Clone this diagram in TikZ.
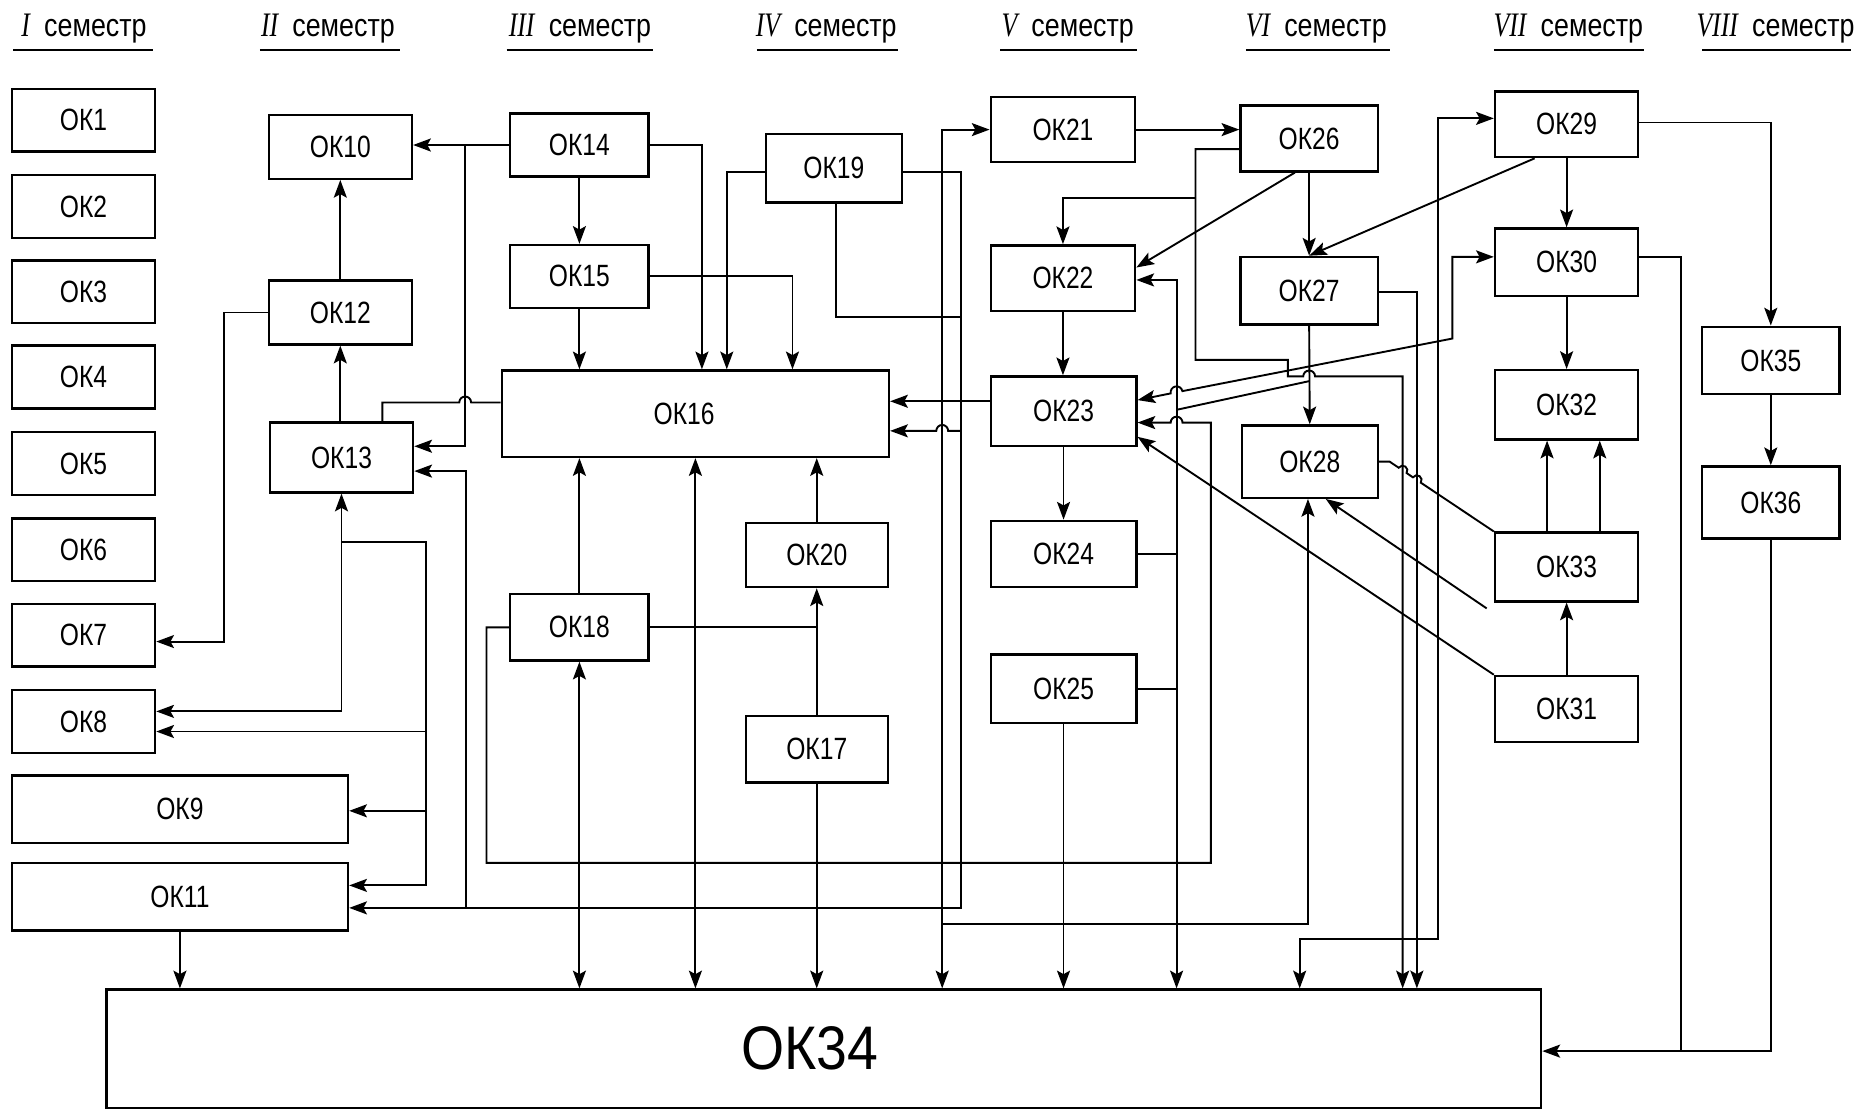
\documentclass[tikz,border=0pt]{standalone}
\usepackage{fontspec}
\usetikzlibrary{arrows.meta}
\newfontfamily\boxfont[FakeStretch=0.8]{Liberation Sans}
\newfontfamily\bigboxfont[FakeStretch=0.9]{Liberation Sans}
\newfontfamily\hdrfont[FakeStretch=0.84]{Liberation Sans}
\newfontfamily\romfont[FakeStretch=0.75]{Liberation Serif}
\newcommand\semhdr[1]{{\romfont\itshape\fontsize{29}{30}\selectfont #1}\hspace{12pt}{\hdrfont\fontsize{27}{30}\selectfont семестр}}
\tikzset{
  box/.style={draw, line width=2pt, inner sep=0pt, font=\boxfont\fontsize{26}{28}\selectfont},
  hdr/.style={anchor=base, inner sep=0pt},
  uline/.style={line width=1.7pt},
  ln/.style={line width=1.6pt},
  arr/.style={ln, -{Stealth[length=15pt,width=11pt,inset=3pt]}},
  rarr/.style={ln, {Stealth[length=15pt,width=11pt,inset=3pt]}-},
  darr/.style={ln, {Stealth[length=15pt,width=11pt,inset=3pt]}-{Stealth[length=15pt,width=11pt,inset=3pt]}}
}
\begin{document}
\begin{tikzpicture}[x=1pt,y=1pt]
\useasboundingbox (0,0) rectangle (1568,-938);
\fill[white] (0,0) rectangle (1568,-938);

% headers
\node[hdr] (h1) at (71,-31) {\semhdr{I}};
\node[hdr] (h2) at (277,-31) {\semhdr{II}};
\node[hdr] (h3) at (490,-31) {\semhdr{III}};
\node[hdr] (h4) at (698,-31) {\semhdr{IV}};
\node[hdr] (h5) at (902,-31) {\semhdr{V}};
\node[hdr] (h6) at (1112,-31) {\semhdr{VI}};
\node[hdr] (h7) at (1325,-31) {\semhdr{VII}};
\node[hdr] (h8) at (1500,-31) {\semhdr{VIII}};
\draw[uline] (11,-42) -- (129,-42);
\draw[uline] (219.5,-42) -- (338,-42);
\draw[uline] (428,-42) -- (552,-42);
\draw[uline] (639.5,-42) -- (759,-42);
\draw[uline] (845,-42) -- (960.5,-42);
\draw[uline] (1052.5,-42) -- (1174,-42);
\draw[uline] (1262,-42) -- (1389,-42);
\draw[uline] (1438,-42) -- (1564,-42);

% column I
\node[box, minimum width=121pt, minimum height=53pt] (ok1) at (70.5,-101.5) {ОК1};
\node[box, minimum width=121pt, minimum height=53pt] (ok2) at (70.5,-174.5) {ОК2};
\node[box, minimum width=121pt, minimum height=53pt] (ok3) at (70.5,-246.5) {ОК3};
\node[box, minimum width=121pt, minimum height=53pt] (ok4) at (70.5,-318.5) {ОК4};
\node[box, minimum width=121pt, minimum height=53pt] (ok5) at (70.5,-391.5) {ОК5};
\node[box, minimum width=121pt, minimum height=53pt] (ok6) at (70.5,-464.5) {ОК6};
\node[box, minimum width=121pt, minimum height=53pt] (ok7) at (70.5,-536.5) {ОК7};
\node[box, minimum width=121pt, minimum height=53pt] (ok8) at (70.5,-609.5) {ОК8};
\node[box, minimum width=284pt, minimum height=57pt] (ok9) at (152,-683.5) {ОК9};
\node[box, minimum width=284pt, minimum height=57pt] (ok11) at (152,-757.5) {ОК11};
% column II
\node[box, minimum width=121pt, minimum height=54pt] (ok10) at (287.5,-124) {ОК10};
\node[box, minimum width=121pt, minimum height=54pt] (ok12) at (287.5,-264) {ОК12};
\node[box, minimum width=121pt, minimum height=59pt] (ok13) at (288.5,-386.5) {ОК13};
% column III / IV
\node[box, minimum width=117pt, minimum height=53pt] (ok14) at (489.5,-122.5) {ОК14};
\node[box, minimum width=117pt, minimum height=53pt] (ok15) at (489.5,-233.5) {ОК15};
\node[box, minimum width=327pt, minimum height=73pt] (ok16) at (587.5,-349.5) {ОК16\hspace*{19pt}};
\node[box, minimum width=117pt, minimum height=56pt] (ok18) at (489.5,-530) {ОК18};
\node[box, minimum width=120pt, minimum height=54pt] (ok20) at (690,-469) {ОК20};
\node[box, minimum width=120pt, minimum height=56pt] (ok17) at (690,-633) {ОК17};
\node[box, minimum width=115pt, minimum height=58pt] (ok19) at (704.5,-142) {ОК19};
% column V
\node[box, minimum width=122pt, minimum height=55pt] (ok21) at (898,-109.5) {ОК21};
\node[box, minimum width=122pt, minimum height=55.5pt] (ok22) at (898,-235) {ОК22};
\node[box, minimum width=123pt, minimum height=59pt] (ok23) at (898.5,-347.5) {ОК23};
\node[box, minimum width=123pt, minimum height=56pt] (ok24) at (898.5,-468) {ОК24};
\node[box, minimum width=123pt, minimum height=58pt] (ok25) at (898.5,-582) {ОК25};
% column VI
\node[box, minimum width=116pt, minimum height=55.5pt] (ok26) at (1106,-117) {ОК26};
\node[box, minimum width=116pt, minimum height=57pt] (ok27) at (1106,-245.5) {ОК27};
\node[box, minimum width=115pt, minimum height=61pt] (ok28) at (1106.5,-390) {ОК28};
% column VII
\node[box, minimum width=121pt, minimum height=55.5pt] (ok29) at (1323.5,-105) {ОК29};
\node[box, minimum width=121pt, minimum height=57pt] (ok30) at (1323.5,-221.5) {ОК30};
\node[box, minimum width=121pt, minimum height=58.5pt] (ok32) at (1323.5,-342) {ОК32};
\node[box, minimum width=121pt, minimum height=58pt] (ok33) at (1323.5,-479) {ОК33};
\node[box, minimum width=121pt, minimum height=56pt] (ok31) at (1323.5,-599) {ОК31};
% column VIII
\node[box, minimum width=116pt, minimum height=57pt] (ok35) at (1496,-304.5) {ОК35};
\node[box, minimum width=116pt, minimum height=61pt] (ok36) at (1496,-424.5) {ОК36};
% bottom
\node[box, minimum width=1212pt, minimum height=100pt, font=\bigboxfont\fontsize{52}{54}\selectfont] (ok34) at (696,-886) {ОК34\hspace*{24pt}};

% column coordinates / junctions
\coordinate (x189) at (189,0);
\coordinate (x360) at (360,0);
\coordinate (x393) at (393,0);
\coordinate (x796) at (796,0);
\coordinate (x994) at (994,0);
\coordinate (x1098) at (1098,0);
\coordinate (x1185) at (1185,0);
\coordinate (x1197) at (1197,0);
\coordinate (j13) at (288.5,-457.6);
\coordinate (j8b) at (360,-618);
\coordinate (j9) at (360,-685);
\coordinate (j767) at (812,-767);
\coordinate (j267) at (812,-267.5);
\coordinate (j394) at (394,-767);
\coordinate (j780) at (796,-780.6);
\coordinate (j167) at (1010,-167);
\coordinate (j346) at (995,-346);
\coordinate (j322) at (1106,-322);
\coordinate (j888) at (1420,-888);
\coordinate (f1) at (1256,-514);

% --- left part
\draw[arr] (ok14.west) -- (ok14.west -| ok10.east);
\draw[arr] (x393 |- ok14.west) |- ([yshift=9.5pt]ok13.east);
\draw[ln] ([xshift=34.5pt]ok13.north) |- (388,-340) arc[start angle=180,end angle=0,radius=5pt] -- ([yshift=9.5pt]ok16.west);
\draw[arr] (ok12.north) -- (ok10.south);
\draw[arr] (ok13.north -| ok12.south) -- (ok12.south);
\draw[arr] (ok12.west) -- (x189 |- ok12.west) |- ([yshift=-5.5pt]ok7.east);
\draw[darr] (ok13.south) |- ([yshift=8.5pt]ok8.east);
\draw[arr] (j13) -- (x360 |- j13) |- ([yshift=9.5pt]ok11.east);
\draw[arr] (j8b) -- (j8b -| ok8.east);
\draw[arr] (j9) -- (j9 -| ok9.east);
\draw[arr] (ok11.south) -- (ok11.south |- ok34.north);

% --- OK19 network
\draw[arr] ([yshift=-3pt]ok19.east) -| (j767) -- (j767 -| ok11.east);
\draw[ln] ([xshift=1.5pt]ok19.south) |- (j267);
\draw[rarr] ([yshift=-14.5pt]ok16.east) -- (791,-364) arc[start angle=180,end angle=0,radius=5pt] -- (812,-364);
\draw[arr] (j394) |- ([yshift=-11.5pt]ok13.east);

% --- x=796 network
\draw[darr] (ok21.west) -| (x796 |- ok34.north);
\draw[arr] (j780) -| ([xshift=-1.5pt]ok28.south);

% --- OK16 inputs
\draw[arr] (ok14.east) -| ([xshift=5.5pt]ok16.north);
\draw[arr] ([yshift=-3pt]ok19.west) -| ([xshift=26.5pt]ok16.north);
\draw[arr] (ok15.east) -| ([xshift=82pt]ok16.north);
\draw[arr] (ok14.south) -- (ok15.north);
\draw[arr] (ok15.south) -- (ok15.south |- ok16.north);
\draw[arr] (ok18.north) -- (ok18.north |- ok16.south);
\draw[darr] (ok18.south) -- (ok18.south |- ok34.north);
\draw[darr] (ok16.south) -- (ok16.south |- ok34.north);
\draw[arr] (ok20.north) -- (ok20.north |- ok16.south);
\draw[arr] (ok17.north) -- (ok20.south);
\draw[arr] (ok17.south) -- (ok17.south |- ok34.north);
\draw[ln] (ok18.east) -- (ok18.east -| ok17.north);

% --- OK18 loop to OK23
\draw[arr] (ok18.west) -- (411,-530) -- (411,-729) -- (1023,-729) -- (1023,-357) -- (999,-357) arc[start angle=0,end angle=180,radius=5pt] -- ([yshift=-9.5pt]ok23.east);

% --- column V
\draw[arr] ([yshift=8.5pt]ok23.west) -- ([yshift=8.5pt]ok23.west -| ok16.east);
\draw[arr] (ok21.east) -- (ok21.east -| ok26.west);
\draw[arr] ([yshift=-9pt]ok26.west) -- (1010,-126) -- (1010,-304) -- (1088,-304) -- (1088,-318) -- (1101,-318) arc[start angle=180,end angle=0,radius=5pt] -- (1185,-318) -- (x1185 |- ok34.north);
\draw[arr] (j167) -| (ok22.north);
\draw[arr] ([xshift=-12pt]ok26.south) -- ([yshift=9pt]ok22.east);
\draw[darr] ([yshift=-1.5pt]ok22.east) -| (x994 |- ok34.north);
\draw[ln] (ok24.east) -- (ok24.east -| x994);
\draw[ln] (ok25.east) -- (ok25.east -| x994);
\draw[arr] (ok22.south) -- (ok22.south |- ok23.north);
\draw[arr] (ok23.south) -- (ok24.north);
\draw[arr] (ok25.south) -- (ok25.south |- ok34.north);

% --- column VI
\draw[arr] (ok26.south) -- (ok27.north);
\draw[arr] ([xshift=-27pt]ok29.south) -- (ok27.north);
\draw[arr] (ok27.south) -- (ok28.north);
\draw[arr] ([yshift=-1pt]ok27.east) -| (x1197 |- ok34.north);
\draw[darr] ([yshift=5pt]ok29.west) -| (1214.6,-793) -- (1098,-793) -- (x1098 |- ok34.north);
\draw[darr] ([yshift=9.5pt]ok23.east) -- (989.09,-332.34) arc[start angle=191.02,end angle=11.02,radius=5pt] -- (1227,-286) |- ([yshift=4.5pt]ok30.west);
\draw[ln] (j346) -- (j322);
\draw[ln] (ok28.east) -- (1174,-390) -- (1181.68,-395.18) arc[start angle=146.01,end angle=-33.99,radius=4pt] -- (1193.68,-403.27) arc[start angle=146.01,end angle=-33.99,radius=4pt] -- (ok33.north west);
\draw[arr] (f1) -- ([xshift=13.5pt]ok28.south);
\draw[arr] (ok31.north west) -- ([yshift=-21.5pt]ok23.east);

% --- column VII / VIII
\draw[arr] (ok29.south) -- (ok30.north);
\draw[arr] (ok30.south) -- (ok32.north);
\draw[arr] (ok31.north) -- (ok33.south);
\draw[arr] ([xshift=-16.5pt]ok33.north) -- ([xshift=-16.5pt]ok32.south);
\draw[arr] ([xshift=28pt]ok33.north) -- ([xshift=28pt]ok32.south);
\draw[arr] ([yshift=1.5pt]ok29.east) -| (ok35.north);
\draw[arr] (ok35.south) -- (ok36.north);
\draw[arr] (ok36.south) |- ([yshift=-2pt]ok34.east);
\draw[ln] ([yshift=4.5pt]ok30.east) -| (j888);
\end{tikzpicture}
\end{document}
